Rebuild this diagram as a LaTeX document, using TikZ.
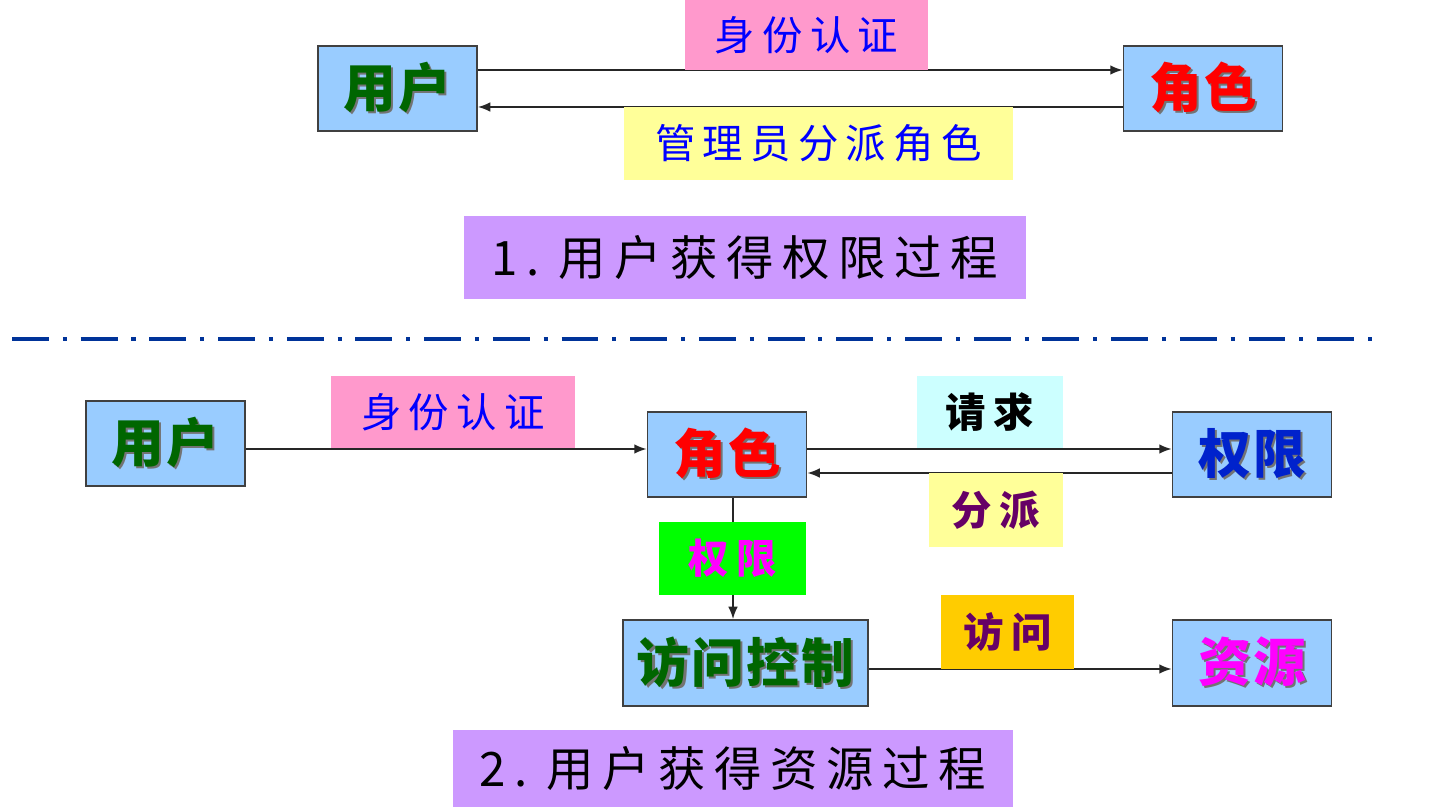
\documentclass[tikz,border=0pt]{standalone}
\usepackage{fontspec}
\usetikzlibrary{arrows.meta}
\newfontfamily\cjkbox{Noto Sans CJK SC}[LetterSpace=4.0]
\newfontfamily\cjklab{Noto Sans CJK SC}[LetterSpace=18.0]
\newfontfamily\cjktit{Noto Sans CJK SC}[LetterSpace=18.0]
\definecolor{boxblue}{HTML}{99CCFF}
\definecolor{lpink}{HTML}{FF99CC}
\definecolor{lyellow}{HTML}{FFFF99}
\definecolor{lpurple}{HTML}{CC99FF}
\definecolor{lcyan}{HTML}{CCFFFF}
\definecolor{lgreen}{HTML}{00FF00}
\definecolor{lorange}{HTML}{FFCC00}
\definecolor{tgreen}{HTML}{006600}
\definecolor{tred}{HTML}{FF0000}
\definecolor{tnavy}{HTML}{0022CC}
\definecolor{tmag}{HTML}{FF00FF}
\definecolor{tblue}{HTML}{0000FF}
\definecolor{tpurple}{HTML}{660066}
\definecolor{sepblue}{HTML}{003399}
\definecolor{edgegray}{HTML}{404040}
\newcommand\shd[2]{\makebox[0pt][l]{\hspace{1.2pt}\raisebox{-1.2pt}{\color{black!55}#2}}{\color{#1}#2}}
\tikzset{
  ebox/.style={draw=edgegray, line width=1.1pt, fill=boxblue, minimum width=3.18cm, minimum height=1.70cm, inner sep=0pt, font=\cjkbox\bfseries\fontsize{30}{32}\selectfont},
  lab/.style={fill=#1, inner sep=0pt, font=\cjklab\fontsize{23}{25}\selectfont},
  title/.style={fill=lpurple, inner sep=0pt, font=\cjktit\fontsize{27}{29}\selectfont},
  arr/.style={draw=black!85, line width=0.9pt, -{Latex[length=7pt,width=5.5pt]}},
  ln/.style={draw=black!85, line width=0.9pt}
}
\begin{document}
\begin{tikzpicture}[x=0.02cm,y=-0.02cm]
\useasboundingbox[fill=white] (0,0) rectangle (1434,807);
% ---- part 1
\node[ebox] (u1) at (397.5,88.5) {\shd{tgreen}{用户}};
\node[ebox] (r1) at (1203,88.5) {\shd{tred}{角色}};
\draw[arr] ([yshift=0.37cm]u1.east) -- ([yshift=0.37cm]r1.west);
\draw[arr] ([yshift=-0.37cm]r1.west) -- ([yshift=-0.37cm]u1.east);
\node[lab=lpink, minimum width=4.86cm, minimum height=1.40cm] (l1) at (806.5,35) {\color{tblue}身份认证};
\node[lab=lyellow, minimum width=7.78cm, minimum height=1.46cm] (l2) at (818.5,143.5) {\color{tblue}管理员分派角色};
\node[title, minimum width=11.24cm, minimum height=1.66cm] (t1) at (745,257.5) {1.\ 用户获得权限过程};
% ---- separator
\coordinate (s1) at (12,339);
\coordinate (s2) at (1378,339);
\draw[sepblue, line width=2.8pt, dash pattern=on 21pt off 7.9pt on 2.3pt off 7.9pt] (s1) -- (s2);
% ---- part 2
\node[ebox] (u2) at (165.5,443.5) {\shd{tgreen}{用户}};
\node[ebox] (r2) at (727,454.5) {\shd{tred}{角色}};
\node[ebox] (q2) at (1252,454.5) {\shd{tnavy}{权限}};
\node[ebox, minimum width=4.90cm, minimum height=1.72cm] (ac) at (745.5,663) {\shd{tgreen}{访问控制}};
\node[ebox, minimum height=1.72cm] (res) at (1252,663) {\shd{tmag}{资源}};
\draw[arr] ([yshift=-0.11cm]u2.east) -- ([yshift=0.11cm]r2.west);
\draw[arr] ([yshift=0.11cm]r2.east) -- ([yshift=0.11cm]q2.west);
\draw[arr] ([yshift=-0.37cm]q2.west) -- ([yshift=-0.37cm]r2.east);
\draw[arr] ([xshift=0.12cm]r2.south) -- ([xshift=0.12cm]r2.south |- ac.north);
\draw[arr] ([yshift=-0.12cm]ac.east) -- ([yshift=-0.12cm]res.west);
\node[lab=lpink, minimum width=4.88cm, minimum height=1.44cm] (l3) at (453,412) {\color{tblue}身份认证};
\node[lab=lcyan, minimum width=2.92cm, minimum height=1.44cm] (l4) at (990,412) {\bfseries\color{black}请求};
\node[lab=lyellow, minimum width=2.68cm, minimum height=1.48cm] (l5) at (996,510) {\bfseries\color{tpurple}分派};
\node[lab=lgreen, minimum width=2.94cm, minimum height=1.46cm] (l6) at (732.5,558.5) {\bfseries\color{tmag}权限};
\node[lab=lorange, minimum width=2.66cm, minimum height=1.48cm] (l7) at (1007.5,632) {\bfseries\color{tpurple}访问};
\node[title, minimum width=11.20cm, minimum height=1.54cm] (t2) at (733,768.5) {2.\ 用户获得资源过程};
\end{tikzpicture}
\end{document}
